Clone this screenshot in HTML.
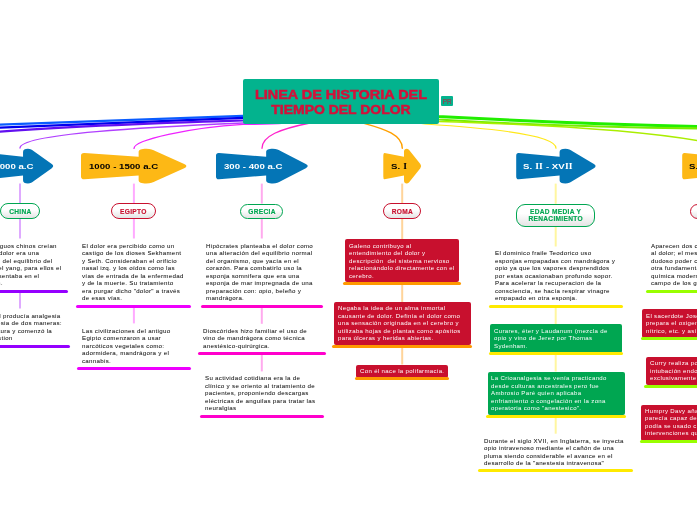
<!DOCTYPE html>
<html><head><meta charset="utf-8"><style>
html,body{margin:0;padding:0;background:#fff;}
body{width:697px;height:520px;overflow:hidden;position:relative;font-family:"Liberation Sans",sans-serif;}
.tx,.at,.pt,.rt,.pr{will-change:transform;}
svg.lay{position:absolute;left:0;top:0;}
.root{position:absolute;left:243px;top:78.6px;width:195.5px;height:45px;background:#03b38e;border-radius:2px;}
.rt{position:absolute;left:0;width:196px;text-align:center;font-weight:bold;font-size:12px;line-height:15px;color:#d3113a;white-space:nowrap;-webkit-text-stroke:0.45px #d3113a;}
.pr{position:absolute;left:440.8px;top:96px;width:12.3px;height:10.4px;padding-top:1px;box-sizing:border-box;background:#03b38e;border-radius:1px;color:#b8203c;font-size:6.5px;line-height:10.3px;text-align:center;}
.at{position:absolute;top:162px;font-weight:bold;font-size:7.6px;line-height:10px;white-space:nowrap;transform-origin:0 50%;transform:scaleX(1.27);}
.si{font-family:"Liberation Serif",serif;font-weight:bold;padding:0 0.35px;}
.pill{position:absolute;box-sizing:border-box;border:1.8px solid;border-radius:9px;background:linear-gradient(#fff,#fff 40%,#e4e4e4);}
.pt{position:absolute;text-align:center;font-weight:bold;font-size:6.6px;line-height:7.37px;white-space:nowrap;-webkit-text-stroke:0.15px currentColor;letter-spacing:0.3px;text-indent:0.3px;}
.box{position:absolute;border-radius:2px;}
.bar{position:absolute;border-radius:1.5px;}
.tx{position:absolute;font-size:5.3px;line-height:7.5px;letter-spacing:0.3px;white-space:nowrap;transform:scaleX(1.144);transform-origin:0 0;}
.tr{text-align:right;transform-origin:100% 0;}
.dk{text-shadow:0.2px 0 0 rgba(0,0,0,.3);}
</style></head><body>
<svg class="lay" width="697" height="520" viewBox="0 0 697 520">
<path d="M 330 112 L 243 115.9 Q 140 119.8 0 124.7" fill="none" stroke="#0a5cff" stroke-width="2.2" stroke-linecap="round"/>
<path d="M 330 113 L 243 117.9 Q 140 122.2 0 127.6" fill="none" stroke="#0000ee" stroke-width="2.4" stroke-linecap="round"/>
<path d="M 330 115 L 243 120.3 Q 80 125.3 0 131.7" fill="none" stroke="#6210f0" stroke-width="2.3" stroke-linecap="round"/>
<path d="M 330 119 L 243 123 C 150 127, 20 133.5, 20 148" fill="none" stroke="#b040ff" stroke-width="1.3" stroke-linecap="round"/>
<path d="M 285 123 Q 270 124.3 243 124.4 C 190 127.5, 134 140, 134 148.4" fill="none" stroke="#ee22ff" stroke-width="1.3" stroke-linecap="round"/>
<path d="M 330 118 L 310 123 C 280 129, 262 136, 262 148.3" fill="none" stroke="#ff22cc" stroke-width="1.3" stroke-linecap="round"/>
<path d="M 345 118 L 364 123.3 C 385 129, 402.3 135, 402.3 148.3" fill="none" stroke="#ffa000" stroke-width="1.4" stroke-linecap="round"/>
<path d="M 380 118 L 425 124 C 470 127, 556 133, 556 148.2" fill="none" stroke="#ffe81a" stroke-width="1.2" stroke-linecap="round"/>
<path d="M 360 110 L 438 116.5 Q 560 123 697 126.5" fill="none" stroke="#22ee00" stroke-width="3.0" stroke-linecap="round"/>
<path d="M 360 112 L 438 119.5 Q 560 127 697 128.3" fill="none" stroke="#77ee00" stroke-width="2.2" stroke-linecap="round"/>
<path d="M 360 115 L 438 121.5 C 560 125, 640 130.5, 700 141 S 714 145 714 148" fill="none" stroke="#aaee00" stroke-width="1.3" stroke-linecap="round"/>
<line x1="20" y1="183.6" x2="20" y2="203.4" stroke="#dfaaff" stroke-width="2"/>
<line x1="20" y1="218.7" x2="20" y2="238.5" stroke="#dfaaff" stroke-width="2"/>
<line x1="20" y1="292.2" x2="20" y2="308.5" stroke="#dfaaff" stroke-width="2"/>
<line x1="133.9" y1="183.6" x2="133.9" y2="203.4" stroke="#ffaaff" stroke-width="2"/>
<line x1="133.9" y1="218.7" x2="133.9" y2="238.5" stroke="#ffaaff" stroke-width="2"/>
<line x1="133.9" y1="307.5" x2="133.9" y2="323.4" stroke="#ffaaff" stroke-width="2"/>
<line x1="261.8" y1="183.6" x2="261.8" y2="203.6" stroke="#ffaaee" stroke-width="2"/>
<line x1="261.8" y1="218.9" x2="261.8" y2="238.5" stroke="#ffaaee" stroke-width="2"/>
<line x1="261.8" y1="307.1" x2="261.8" y2="323.8" stroke="#ffaaee" stroke-width="2"/>
<line x1="261.8" y1="354.8" x2="261.8" y2="371.4" stroke="#ffaaee" stroke-width="2"/>
<line x1="402.2" y1="183.6" x2="402.2" y2="203.4" stroke="#ffd49a" stroke-width="2"/>
<line x1="402.2" y1="218.7" x2="402.2" y2="239" stroke="#ffd49a" stroke-width="2"/>
<line x1="402.2" y1="284.4" x2="402.2" y2="302.2" stroke="#ffd49a" stroke-width="2"/>
<line x1="402.2" y1="347.4" x2="402.2" y2="364.5" stroke="#ffd49a" stroke-width="2"/>
<line x1="555.7" y1="183.6" x2="555.7" y2="203.8" stroke="#fff6a0" stroke-width="2"/>
<line x1="555.7" y1="226.6" x2="555.7" y2="246.5" stroke="#fff6a0" stroke-width="2"/>
<line x1="555.7" y1="307.3" x2="555.7" y2="324.2" stroke="#fff6a0" stroke-width="2"/>
<line x1="555.7" y1="354.8" x2="555.7" y2="371.5" stroke="#fff6a0" stroke-width="2"/>
<line x1="555.7" y1="417.4" x2="555.7" y2="433.7" stroke="#fff6a0" stroke-width="2"/>
<line x1="715" y1="183.6" x2="715" y2="204.2" stroke="#ccff88" stroke-width="2"/>
<path d="M 0.000 155.80 Q 0.000 152.80 3.268 153.00 L 54.575 156.80 L 54.575 152.00 C 54.575 149.60 57.190 148.80 61.874 148.80 C 65.904 148.80 68.083 149.90 70.806 151.20 L 97.712 164.00 Q 101.961 166.10 97.712 168.20 L 70.806 181.00 C 68.083 182.30 65.904 183.40 61.874 183.40 C 57.190 183.40 54.575 182.60 54.575 180.20 L 54.575 175.40 L 3.268 179.20 Q 0.000 179.40 0.000 176.40 Z" transform="translate(-13.30,0) scale(0.6660,1)" fill="#0475b6"/>
<path d="M 0.000 155.80 Q 0.000 152.80 3.268 153.00 L 54.575 156.80 L 54.575 152.00 C 54.575 149.60 57.190 148.80 61.874 148.80 C 65.904 148.80 68.083 149.90 70.806 151.20 L 97.712 164.00 Q 101.961 166.10 97.712 168.20 L 70.806 181.00 C 68.083 182.30 65.904 183.40 61.874 183.40 C 57.190 183.40 54.575 182.60 54.575 180.20 L 54.575 175.40 L 3.268 179.20 Q 0.000 179.40 0.000 176.40 Z" transform="translate(81.00,0) scale(1.0560,1)" fill="#fdb815"/>
<path d="M 0.000 155.80 Q 0.000 152.80 3.268 153.00 L 54.575 156.80 L 54.575 152.00 C 54.575 149.60 57.190 148.80 61.874 148.80 C 65.904 148.80 68.083 149.90 70.806 151.20 L 97.712 164.00 Q 101.961 166.10 97.712 168.20 L 70.806 181.00 C 68.083 182.30 65.904 183.40 61.874 183.40 C 57.190 183.40 54.575 182.60 54.575 180.20 L 54.575 175.40 L 3.268 179.20 Q 0.000 179.40 0.000 176.40 Z" transform="translate(216.00,0) scale(0.9190,1)" fill="#0475b6"/>
<path d="M 0.000 155.80 Q 0.000 152.80 3.268 153.00 L 54.575 156.80 L 54.575 152.00 C 54.575 149.60 57.190 148.80 61.874 148.80 C 65.904 148.80 68.083 149.90 70.806 151.20 L 97.712 164.00 Q 101.961 166.10 97.712 168.20 L 70.806 181.00 C 68.083 182.30 65.904 183.40 61.874 183.40 C 57.190 183.40 54.575 182.60 54.575 180.20 L 54.575 175.40 L 3.268 179.20 Q 0.000 179.40 0.000 176.40 Z" transform="translate(383.30,0) scale(0.3790,1)" fill="#fdb815"/>
<path d="M 0.000 155.80 Q 0.000 152.80 3.268 153.00 L 54.575 156.80 L 54.575 152.00 C 54.575 149.60 57.190 148.80 61.874 148.80 C 65.904 148.80 68.083 149.90 70.806 151.20 L 97.712 164.00 Q 101.961 166.10 97.712 168.20 L 70.806 181.00 C 68.083 182.30 65.904 183.40 61.874 183.40 C 57.190 183.40 54.575 182.60 54.575 180.20 L 54.575 175.40 L 3.268 179.20 Q 0.000 179.40 0.000 176.40 Z" transform="translate(516.20,0) scale(0.7950,1)" fill="#0475b6"/>
<path d="M 0.000 155.80 Q 0.000 152.80 3.268 153.00 L 54.575 156.80 L 54.575 152.00 C 54.575 149.60 57.190 148.80 61.874 148.80 C 65.904 148.80 68.083 149.90 70.806 151.20 L 97.712 164.00 Q 101.961 166.10 97.712 168.20 L 70.806 181.00 C 68.083 182.30 65.904 183.40 61.874 183.40 C 57.190 183.40 54.575 182.60 54.575 180.20 L 54.575 175.40 L 3.268 179.20 Q 0.000 179.40 0.000 176.40 Z" transform="translate(682.20,0) scale(0.7780,1)" fill="#fdb815"/>
</svg>
<div class="root"><div class="rt" style="top:9.6px;transform:scaleX(1.205)">LINEA DE HISTORIA DEL</div><div class="rt" style="top:24.8px;transform:scaleX(1.163)">TIEMPO DEL DOLOR</div></div>
<div class="pr">PR</div>
<div class="at" style="right:663.8px;color:#fff;transform-origin:100% 50%">2000 - 3000 a.C</div>
<div class="at" style="left:89.4px;color:#000">1000 - 1500 a.C</div>
<div class="at" style="left:223.7px;color:#fff">300 - 400 a.C</div>
<div class="at" style="left:391.0px;color:#000">S. <span class="si">I</span></div>
<div class="at" style="left:523.3px;color:#fff">S. <span class="si">II</span> - XV<span class="si">II</span></div>
<div class="at" style="left:689.1px;color:#000">S. XVIII</div>
<div class="pill" style="left:-0.5px;top:203px;width:40.4px;height:16px;border-color:#00a651"></div>
<div class="pt" style="left:-0.5px;top:208.03px;width:40.4px;color:#00a651">CHINA</div>
<div class="pill" style="left:111.4px;top:203px;width:44.4px;height:16px;border-color:#c8102e"></div>
<div class="pt" style="left:111.4px;top:208.03px;width:44.4px;color:#c8102e">EGIPTO</div>
<div class="pill" style="left:239.6px;top:204px;width:43.9px;height:15px;border-color:#00a651"></div>
<div class="pt" style="left:239.6px;top:208.03px;width:43.9px;color:#00a651">GRECIA</div>
<div class="pill" style="left:382.6px;top:203px;width:38.7px;height:16px;border-color:#c8102e"></div>
<div class="pt" style="left:382.6px;top:208.03px;width:38.7px;color:#c8102e">ROMA</div>
<div class="pill" style="left:516.2px;top:204px;width:79.0px;height:23px;border-color:#00a651"></div>
<div class="pt" style="left:516.2px;top:208.03px;width:79.0px;color:#00a651">EDAD MEDIA Y</div>
<div class="pt" style="left:516.2px;top:215.03px;width:79.0px;color:#00a651">RENACIMIENTO</div>
<div class="pill" style="left:690.4px;top:204px;width:49.6px;height:15px;border-color:#c8102e"></div>
<div class="pt" style="left:690.4px;top:208.03px;width:49.6px;color:#c8102e">MODERNA</div>
<div class="bar" style="left:-28px;top:289.80px;width:95.8px;height:3px;background:#9500ff"></div>
<div class="tx tr dk" style="right:639.7px;top:242.91px;color:#222">Los antiguos chinos creían</div>
<div class="tx tr dk" style="right:657.9px;top:249.91px;color:#222">que el dolor era una</div>
<div class="tx tr dk" style="right:644.5px;top:257.91px;color:#222">alteración del equilibrio del</div>
<div class="tx tr dk" style="right:635.8px;top:264.91px;color:#222">yin y el yang, para ellos el</div>
<div class="tx tr dk" style="right:657.4px;top:272.91px;color:#222">dolor se presentaba en el</div>
<div class="tx tr dk" style="right:694.1px;top:279.91px;color:#222">corazón.</div>
<div class="bar" style="left:-29.5px;top:344.60px;width:99.0px;height:3px;background:#9500ff"></div>
<div class="tx tr dk" style="right:636.1px;top:312.91px;color:#222">la acupuntura el producía analgesia</div>
<div class="tx tr dk" style="right:634.9px;top:319.91px;color:#222">y anestesia de dos maneras:</div>
<div class="tx tr dk" style="right:645.0px;top:327.91px;color:#222">acupuntura y comenzó la</div>
<div class="tx tr dk" style="right:684.7px;top:334.91px;color:#222">moxibustion</div>
<div class="bar" style="left:76.4px;top:304.75px;width:114.8px;height:3px;background:#ee00ff"></div>
<div class="tx dk" style="left:81.7px;top:241.91px;padding-top:0.5px;color:#222">El dolor era percibido como un<br>castigo de los dioses Sekhament<br>y Seth. Consideraban el orificio<br>nasal izq. y los oídos como las<br>vías de entrada de la enfermedad<br>y de la muerte. Su tratamiento<br>era purgar dicho "dolor" a través<br>de esas vías.</div>
<div class="bar" style="left:76.5px;top:367.10px;width:114.8px;height:3px;background:#ee00ff"></div>
<div class="tx dk" style="left:81.7px;top:326.91px;padding-top:0.5px;color:#222">Las civilizaciones del antiguo<br>Egipto comenzaron a usar<br>narcóticos vegetales como:<br>adormidera, mandrágora y el<br>cannabis.</div>
<div class="bar" style="left:200.8px;top:304.65px;width:122.0px;height:3px;background:#ff00cc"></div>
<div class="tx dk" style="left:206px;top:241.91px;padding-top:0.5px;color:#222">Hipócrates planteaba el dolor como<br>una alteración del equilibrio normal<br>del organismo, que yacía en el<br>corazón. Para combatirlo uso la<br>esponja somnifera que era una<br>esponja de mar impregnada de una<br>preparación con: opio, beleño y<br>mandrágora.</div>
<div class="bar" style="left:197.7px;top:352.25px;width:127.9px;height:3px;background:#ff00cc"></div>
<div class="tx dk" style="left:203.2px;top:326.91px;padding-top:0.5px;color:#222">Dioscórides hizo familiar el uso de<br>vino de mandrágora como técnica<br>anestésico-quirúrgica.</div>
<div class="bar" style="left:199.9px;top:414.65px;width:123.9px;height:3px;background:#ff00cc"></div>
<div class="tx dk" style="left:205.4px;top:374.91px;padding-top:0.0px;color:#222">Su actividad cotidiana era la de<br>clínico y se oriento al tratamiento de<br>pacientes, proponiendo descargas<br>eléctricas de anguilas para tratar las<br>neuralgias</div>
<div class="box" style="left:345.1px;top:239px;width:114.0px;height:43.0px;background:#c8102e"></div>
<div class="bar" style="left:343.3px;top:281.80px;width:117.5px;height:3px;background:#ff9900"></div>
<div class="tx" style="left:348.9px;top:241.91px;padding-top:0.5px;color:#fff">Galeno contribuyo al<br>entendimiento del dolor y<br>descripción&nbsp; del sistema nervioso<br>relacionándolo directamente con el<br>cerebro.</div>
<div class="box" style="left:333.5px;top:302.2px;width:137.2px;height:42.8px;background:#c8102e"></div>
<div class="bar" style="left:332.1px;top:344.75px;width:140.1px;height:3px;background:#ff9900"></div>
<div class="tx" style="left:337.9px;top:304.91px;padding-top:0.0px;color:#fff">Negaba la idea de un alma inmortal<br>causante de dolor. Definía el dolor como<br>una sensación originada en el cerebro y<br>utilizaba hojas de plantas como apósitos<br>para úlceras y heridas abiertas.</div>
<div class="box" style="left:356.1px;top:364.5px;width:91.6px;height:13.5px;background:#c8102e"></div>
<div class="bar" style="left:355px;top:377.20px;width:94.1px;height:3px;background:#ff9900"></div>
<div class="tx" style="left:360.1px;top:367.91px;padding-top:0.0px;color:#fff">Con él nace la polifarmacia.</div>
<div class="bar" style="left:489.2px;top:304.80px;width:133.6px;height:3px;background:#ffea00"></div>
<div class="tx dk" style="left:494.9px;top:249.91px;padding-top:0.0px;color:#222">El dominico fraile Teodorico uso<br>esponjas empapadas con mandrágora y<br>opio ya que los vapores desprendidos<br>por estas ocasionaban profundo sopor.<br>Para acelerar la recuperacion de la<br>consciencia, se hacía respirar vinagre<br>empapado en otra esponja.</div>
<div class="box" style="left:490.3px;top:324.2px;width:131.6px;height:28.8px;background:#00a651"></div>
<div class="bar" style="left:488.7px;top:352.20px;width:134.8px;height:3px;background:#ffea00"></div>
<div class="tx" style="left:493.8px;top:326.91px;padding-top:0.5px;color:#fff">Curares, éter y Laudanum (mezcla de<br>opio y vino de Jerez por Thomas<br>Sydenham.</div>
<div class="box" style="left:487.6px;top:371.5px;width:137.0px;height:43.5px;background:#00a651"></div>
<div class="bar" style="left:485.7px;top:414.75px;width:140.3px;height:3px;background:#ffea00"></div>
<div class="tx" style="left:491px;top:374.91px;padding-top:0.0px;color:#fff">La Crioanalgesia se venía practicando<br>desde culturas ancestrales pero fue<br>Ambrosio Paré quien aplicaba<br>enfriamiento o congelación en la zona<br>operatoria como "anestesico".</div>
<div class="bar" style="left:477.8px;top:469.45px;width:155.3px;height:3px;background:#ffea00"></div>
<div class="tx dk" style="left:484px;top:436.91px;padding-top:0.5px;color:#222">Durante el siglo XVII, en Inglaterra, se inyecta<br>opio intravenoso mediante el cañón de una<br>pluma siendo considerable el avance en el<br>desarrollo de la "anestesia intravenosa"</div>
<div class="bar" style="left:646.1px;top:289.65px;width:133.9px;height:3px;background:#99ff00"></div>
<div class="tx dk" style="left:651.3px;top:241.91px;padding-top:0.5px;color:#222">Aparecen dos corrientes en cuanto<br>al dolor; el mesmerismo de<br>dudoso poder curativo y la<br>otra fundamentada en la<br>química moderna que abre el<br>campo de los gases anestésicos</div>
<div class="box" style="left:642.1px;top:309.2px;width:147.9px;height:28.8px;background:#c8102e"></div>
<div class="bar" style="left:641px;top:337.10px;width:139.0px;height:3px;background:#99ff00"></div>
<div class="tx" style="left:646.2px;top:311.91px;padding-top:0.5px;color:#fff">El sacerdote Joseph Priestley<br>prepara el oxigeno, el óxido<br>nítrico, etc. y así se inicia</div>
<div class="box" style="left:645.9px;top:357.2px;width:144.1px;height:27.8px;background:#c8102e"></div>
<div class="bar" style="left:643.9px;top:384.55px;width:136.1px;height:3px;background:#99ff00"></div>
<div class="tx" style="left:649.6px;top:359.91px;padding-top:0.0px;color:#fff">Curry realiza por primera vez la<br>intubación endotraqueal<br>exclusivamente</div>
<div class="box" style="left:641px;top:404.8px;width:149.0px;height:36.2px;background:#c8102e"></div>
<div class="bar" style="left:639.5px;top:440.30px;width:140.5px;height:3px;background:#99ff00"></div>
<div class="tx" style="left:645px;top:406.91px;padding-top:0.5px;color:#fff">Humpry Davy añade que el gas<br>parecía capaz de destruir el dolor<br>podía se usado con ventaja en<br>intervenciones quirúrgicas</div>
</body></html>
